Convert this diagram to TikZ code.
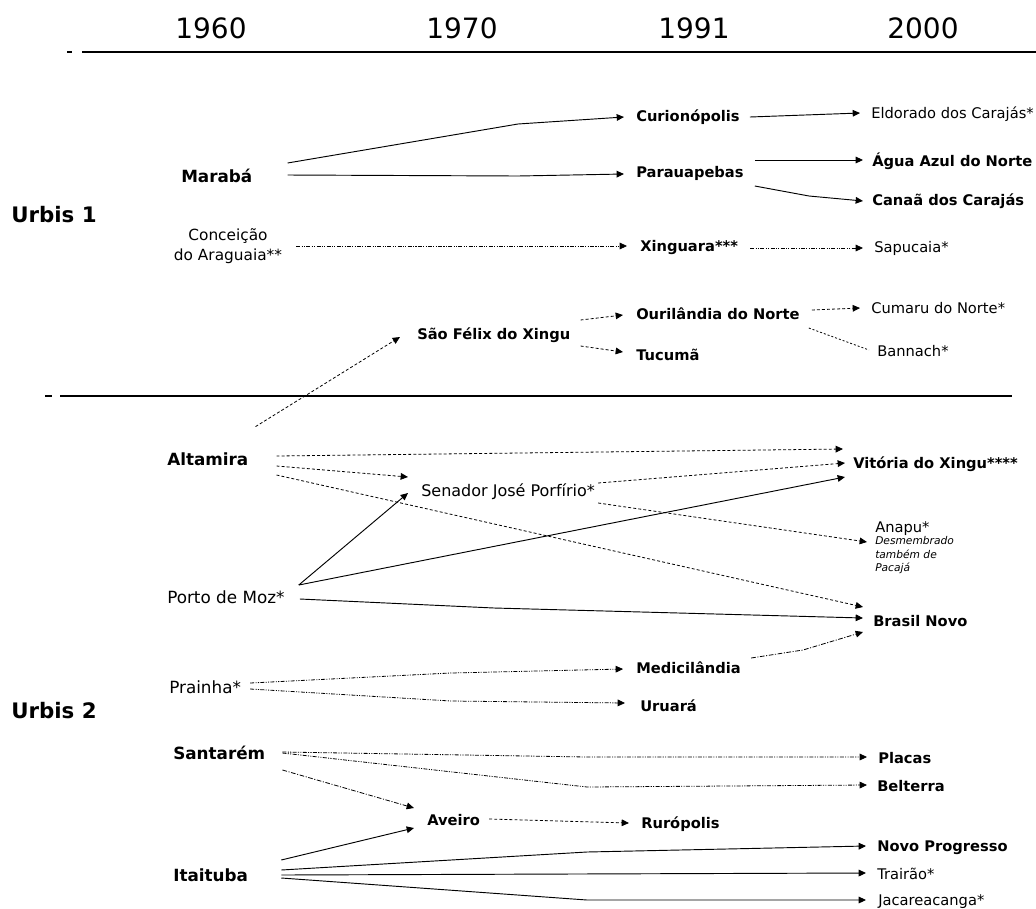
\documentclass[tikz,border=0pt]{standalone}
\usepackage{fontspec}
\setmainfont{DejaVu Sans}
\usetikzlibrary{arrows.meta,calc}

\begin{document}
\begin{tikzpicture}[x=0.75pt,y=-0.75pt,
  town/.style={font=\fontsize{11}{13}\selectfont, inner sep=0pt, text height=8pt, text depth=0pt, anchor=west},
  townb/.style={town, font=\fontsize{11}{13}\selectfont\bfseries},
  seat/.style={town, font=\fontsize{12.6}{15}\selectfont, text height=9.2pt},
  seatb/.style={seat, font=\fontsize{12.6}{15}\selectfont\bfseries},
  note/.style={font=\fontsize{8}{10}\selectfont\itshape, inner sep=0pt, align=left, anchor=north west},
  year/.style={font=\fontsize{21}{25}\selectfont, inner sep=0pt, text height=15.3pt, text depth=0pt},
  urbis/.style={font=\fontsize{16}{19}\selectfont\bfseries, inner sep=0pt, text height=11.7pt, text depth=0pt, anchor=west},
  link/.style={line width=0.6pt, -{Triangle[length=5.5pt,width=5pt]}},
  solidlink/.style={link, line width=0.7pt},
  dashlink/.style={link, dash pattern=on 2.2pt off 1.6pt},
  dotlink/.style={link, dash pattern=on 3.5pt off 1.2pt on 0.8pt off 1.2pt},
  dotdotlink/.style={link, dash pattern=on 3pt off 1pt on 0.8pt off 1pt on 0.8pt off 1pt}]
  \useasboundingbox (0,0) rectangle (1036,908);

  % years and rules
  \node[year] (y1960) at (211,28) {1960};
  \node[year] (y1970) at (462,28) {1970};
  \node[year] (y1991) at (694,28) {1991};
  \node[year] (y2000) at (923,28) {2000};
  \draw[line width=1.5pt] (67,52) -- (72,52);
  \draw[line width=1.5pt] (82,52) -- (1036,52);
  \draw[line width=2.2pt] (45,396) -- (52,396);
  \draw[line width=2.2pt] (60,396) -- (1012,396);
  \node[urbis] (urbis1) at (11,215) {Urbis 1};
  \node[urbis] (urbis2) at (11,711) {Urbis 2};

  % Urbis 1
  \node[seatb] (maraba) at (181,176) {Marabá};
  \node[font=\fontsize{11.5}{15}\selectfont, align=center, inner sep=0pt] (conceicao) at (228,246) {Conceição\\do Araguaia**};
  \node[townb] (saofelix) at (417,334) {São Félix do Xingu};
  \node[townb] (curio) at (636,116) {Curionópolis};
  \node[townb] (parau) at (636,172) {Parauapebas};
  \node[townb] (xinguara) at (640,246) {Xinguara***};
  \node[townb] (ouril) at (636,314) {Ourilândia do Norte};
  \node[townb] (tucuma) at (636,355) {Tucumã};
  \node[town] (eldorado) at (871,113) {Eldorado dos Carajás*};
  \node[townb] (agua) at (872,161) {Água Azul do Norte};
  \node[townb] (canaa) at (872,200) {Canaã dos Carajás};
  \node[town] (sapucaia) at (874,247) {Sapucaia*};
  \node[town] (cumaru) at (871,308) {Cumaru do Norte*};
  \node[town] (bannach) at (877,351) {Bannach*};

  \draw[solidlink] ($(maraba.east)+(35,-13)$) -- (518,124) -- ($(curio.west)+(-12,1)$);
  \draw[solidlink] ($(maraba.east)+(35,-1)$) -- (518,176) -- ($(parau.west)+(-12,2)$);
  \draw[solidlink] ($(curio.east)+(10,1)$) -- ($(eldorado.west)+(-11,0)$);
  \draw[solidlink] ($(parau.east)+(11,-12)$) -- ($(agua.west)+(-9,-1)$);
  \draw[solidlink] ($(parau.east)+(11,14)$) -- (809,196) -- ($(canaa.west)+(-9,1)$);
  \draw[dotdotlink] ($(conceicao.east)+(14,0)$) -- ($(xinguara.west)+(-13,0)$);
  \draw[dotdotlink] ($(xinguara.east)+(12,2)$) -- ($(sapucaia.west)+(-11,1)$);
  \draw[dashlink] ($(saofelix.east)+(10,-14)$) -- ($(ouril.west)+(-13,1)$);
  \draw[dashlink] ($(saofelix.east)+(10,12)$) -- ($(tucuma.west)+(-13,-3)$);
  \draw[dashlink] ($(ouril.east)+(12,-4)$) -- ($(cumaru.west)+(-11,0)$);
  \draw[link, dash pattern=on 1.5pt off 1.5pt, -] ($(ouril.east)+(9,14)$) -- ($(bannach.west)+(-8,-1)$);

  % Urbis 2
  \node[seatb] (altamira) at (167,459) {Altamira};
  \node[seat] (portomoz) at (167,597) {Porto de Moz*};
  \node[seat] (prainha) at (169,687) {Prainha*};
  \node[seatb] (santarem) at (173,753) {Santarém};
  \node[seatb] (itaituba) at (173,875) {Itaituba};
  \node[town, font=\fontsize{12}{14}\selectfont] (senador) at (421,491) {Senador José Porfírio*};
  \node[townb] (aveiro) at (427,820) {Aveiro};
  \node[townb] (medici) at (636,668) {Medicilândia};
  \node[townb] (uruara) at (640,706) {Uruará};
  \node[townb] (ruropolis) at (641,823) {Rurópolis};
  \node[townb] (vitoria) at (853,463) {Vitória do Xingu****};
  \node[town] (anapu) at (875,527) {Anapu*};
  \node[note] (anapunote) at ($(anapu.south west)+(0,4)$) {Desmembrado\\também de\\Pacajá};
  \node[townb] (brasil) at (873,621) {Brasil Novo};
  \node[townb] (placas) at (878,758) {Placas};
  \node[townb] (belterra) at (877,786) {Belterra};
  \node[townb] (novo) at (877,846) {Novo Progresso};
  \node[town] (trairao) at (877,874) {Trairão*};
  \node[town] (jacare) at (878,900) {Jacareacanga*};

  \draw[dashlink] ($(altamira.north east)+(7,-26)$) -- ($(saofelix.west)+(-17,3)$);
  \draw[dashlink] ($(altamira.east)+(28,-3)$) -- ($(vitoria.west)+(-10,-14)$);
  \draw[dashlink] ($(altamira.east)+(28,7)$) -- ($(senador.west)+(-13,-14)$);
  \draw[dashlink] ($(altamira.east)+(28,16)$) -- ($(brasil.west)+(-10,-14)$);
  \draw[dashlink] ($(senador.east)+(3,-8)$) -- ($(vitoria.west)+(-8,0)$);
  \draw[dashlink] ($(senador.east)+(3,12)$) -- ($(anapu.west)+(-8,15)$);
  \draw[solidlink] ($(portomoz.east)+(14,-12)$) -- ($(senador.west)+(-13,2)$);
  \draw[solidlink] ($(portomoz.east)+(14,-12)$) -- ($(vitoria.west)+(-8,14)$);
  \draw[solidlink] ($(portomoz.east)+(15,2)$) -- (494,608) -- ($(brasil.west)+(-10,-3)$);
  \draw[dotlink] ($(medici.east)+(10,-10)$) -- (803,650) -- ($(brasil.west)+(-10,11)$);
  \draw[dotdotlink] ($(prainha.east)+(9,-4)$) -- (451,673) -- ($(medici.west)+(-13,1)$);
  \draw[dotdotlink] ($(prainha.east)+(9,2)$) -- (451,701) -- ($(uruara.west)+(-15,-3)$);
  \draw[dotdotlink] ($(santarem.east)+(17,-1)$) -- (587,757) -- ($(placas.west)+(-11,-1)$);
  \draw[dotdotlink] ($(santarem.east)+(17,0)$) -- (587,787) -- ($(belterra.west)+(-10,-1)$);
  \draw[dotlink] ($(santarem.east)+(17,17)$) -- ($(aveiro.west)+(-13,-12)$);
  \draw[dashlink] ($(aveiro.east)+(9,-1)$) -- ($(ruropolis.west)+(-12,0)$);
  \draw[solidlink] ($(itaituba.east)+(33,-15)$) -- ($(aveiro.west)+(-13,8)$);
  \draw[solidlink] ($(itaituba.east)+(33,-5)$) -- (587,852) -- ($(novo.west)+(-11,0)$);
  \draw[solidlink] ($(itaituba.east)+(33,0)$) -- ($(trairao.west)+(-11,-1)$);
  \draw[solidlink] ($(itaituba.east)+(33,3)$) -- (587,900) -- ($(jacare.west)+(-12,0)$);
\end{tikzpicture}
\end{document}
